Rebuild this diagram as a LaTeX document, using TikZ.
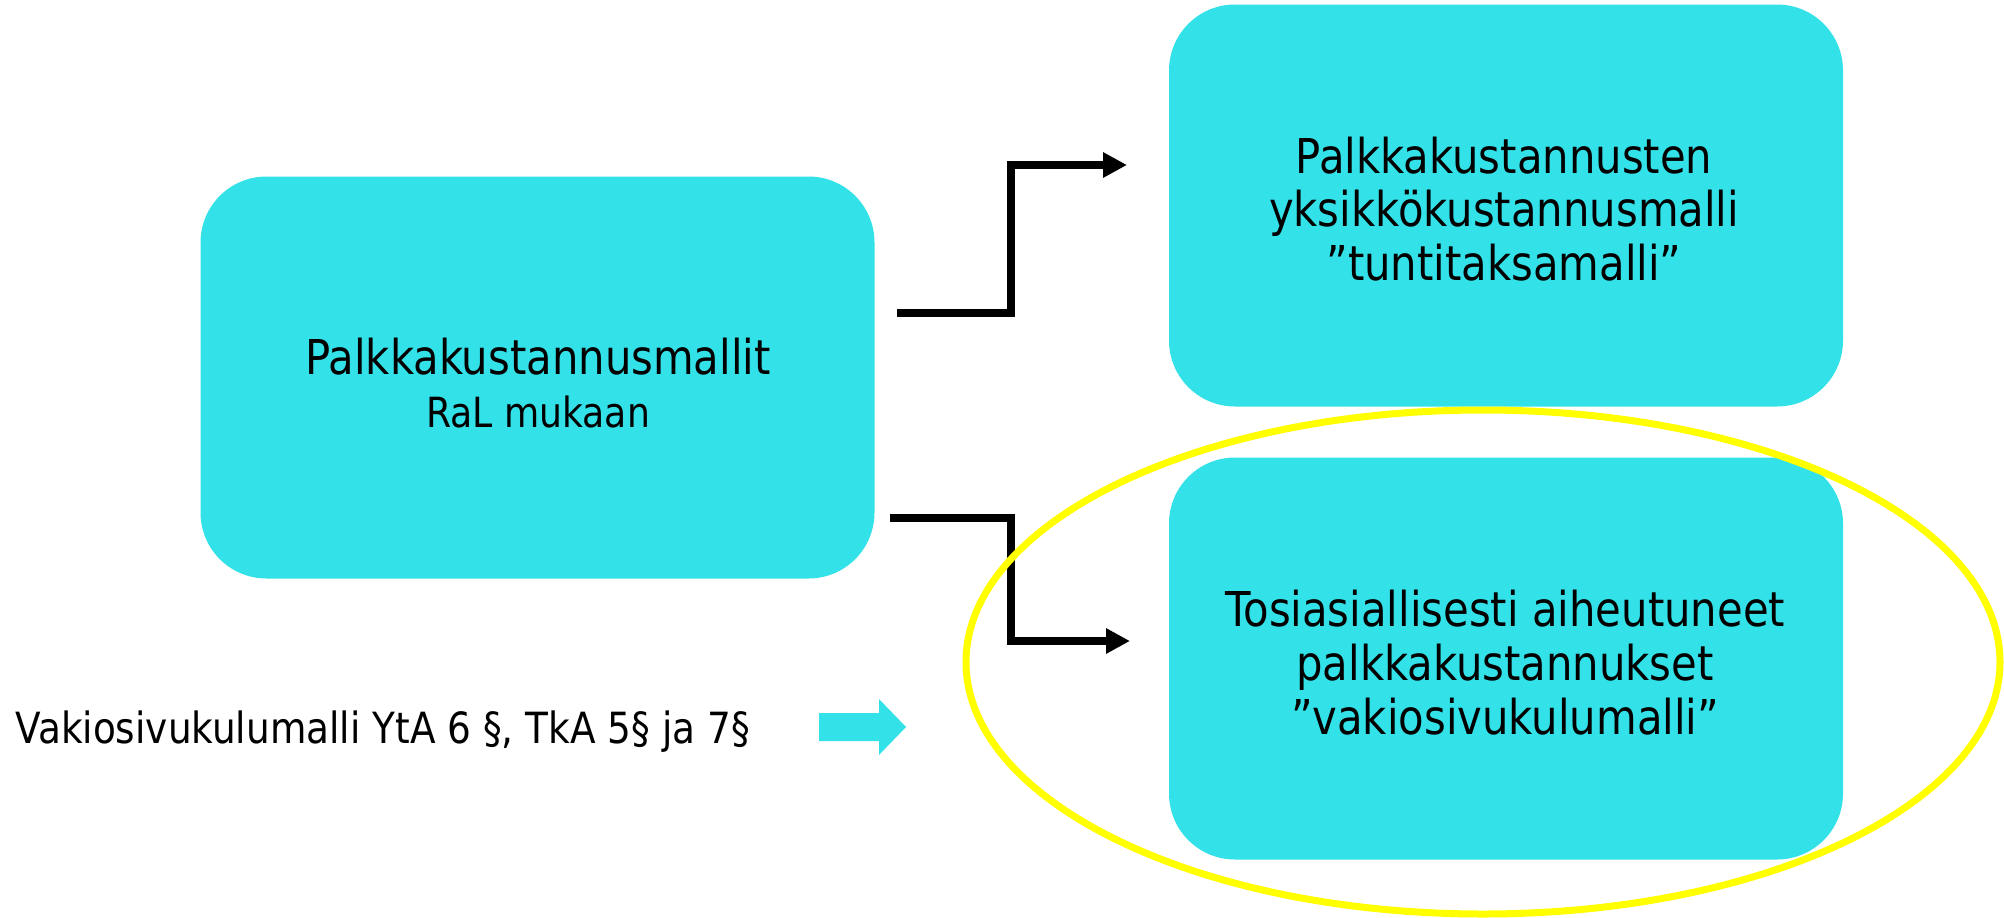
\documentclass[tikz,border=0pt]{standalone}
\usepackage{fontspec}
\setmainfont{DejaVu Sans}[FakeStretch=0.87]
\usetikzlibrary{arrows.meta,shapes.geometric}
\definecolor{boxcyan}{RGB}{51,226,233}
\definecolor{hiyellow}{RGB}{255,255,0}
\begin{document}
\begin{tikzpicture}[x=0.5pt,y=-0.5pt,
  box/.style={fill=boxcyan, rounded corners=33pt, minimum width=337pt, minimum height=201pt, inner sep=0pt},
  bigtxt/.style={font=\fontsize{24pt}{28pt}\selectfont, anchor=base, inner sep=0pt},
  smalltxt/.style={font=\fontsize{20.8pt}{24pt}\selectfont, anchor=base, inner sep=0pt},
  sidetxt/.style={font=\fontsize{21.5pt}{26pt}\selectfont, anchor=base west, inner sep=0pt},
  conn/.style={line width=3.6pt, -{Triangle[length=12pt,width=12pt]}},
  ring/.style={draw=hiyellow, line width=3.5pt, ellipse, inner sep=0pt, minimum width=517pt, minimum height=252pt}
  ]
\useasboundingbox (0,0) rectangle (2004,917);
\fill[white] (0,0) rectangle (2004,917);
% boxes
\node[box] (L) at (537.5,377.5) {};
\node[box] (TR) at (1506,205.5) {};
\node[box] (BR) at (1506,658.5) {};
% texts
\node[bigtxt] (l1) at (538,374) {Palkkakustannusmallit};
\node[smalltxt] (l2) at (538,427) {RaL mukaan};
\node[bigtxt] (t1) at (1504,173) {Palkkakustannusten};
\node[bigtxt] (t2) at (1504,226) {yksikkökustannusmalli};
\node[bigtxt] (t3) at (1504,280) {”tuntitaksamalli”};
\node[bigtxt] (b1) at (1505,626) {Tosiasiallisesti aiheutuneet};
\node[bigtxt] (b2) at (1505,680) {palkkakustannukset};
\node[bigtxt] (b3) at (1505,734) {”vakiosivukulumalli”};
\node[sidetxt] (side) at (15,743) {Vakiosivukulumalli YtA 6 §, TkA 5§ ja 7§};
% connectors
\coordinate (s1) at (897,313);
\coordinate (k1) at (1011,240);
\coordinate (e1) at (1127,165);
\coordinate (s2) at (890,518);
\coordinate (k2) at (1011,580);
\coordinate (e2) at (1130,641);
\draw[conn] (s1) -| (k1) |- (e1);
\draw[conn] (s2) -| (k2) |- (e2);
% small cyan arrow
\fill[boxcyan] (819,713) -- (879,713) -- (879,699) -- (906,727) -- (879,755) -- (879,741) -- (819,741) -- cycle;
% highlight ellipse
\node[ring] (hl) at (1483,662) {};
\end{tikzpicture}
\end{document}
